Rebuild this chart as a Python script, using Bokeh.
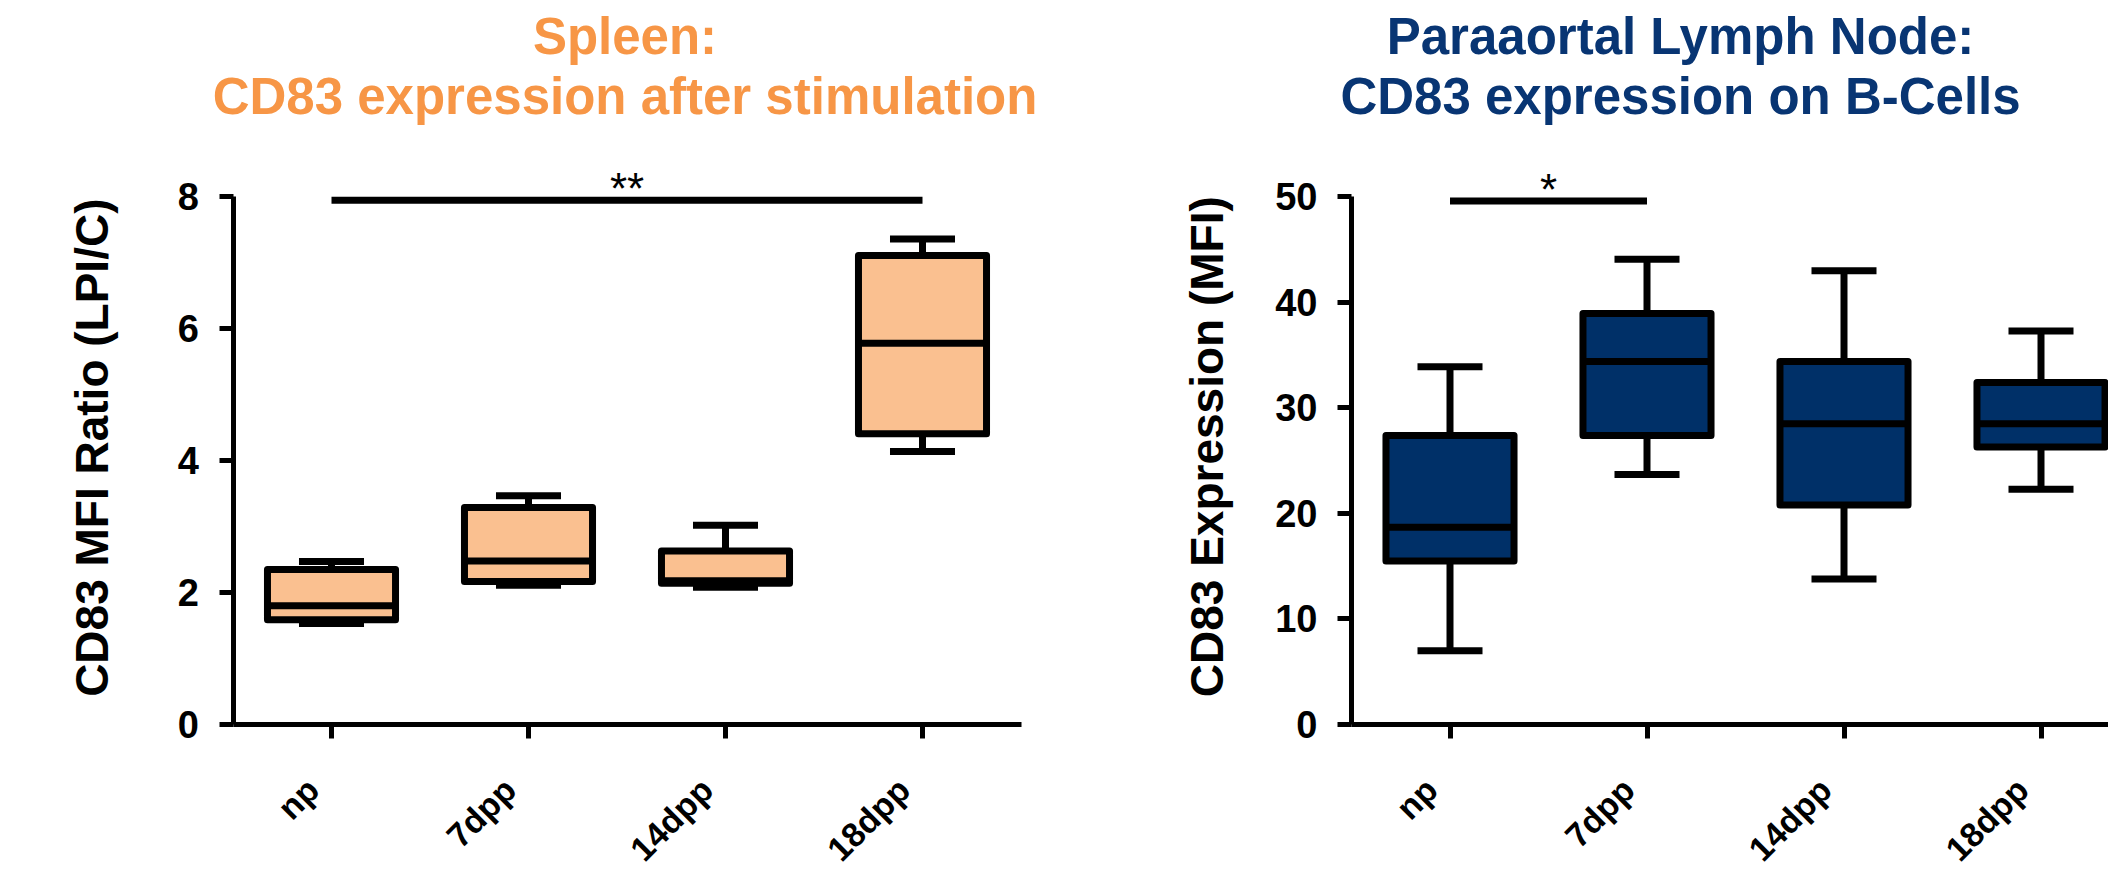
import math
from bokeh.plotting import figure
from bokeh.models import Range1d, FixedTicker
from bokeh.layouts import row
from bokeh.embed import file_html
from bokeh.resources import INLINE
from bokeh.core.properties import value

# ---------------- data ----------------
groups = ["np", "7dpp", "14dpp", "18dpp"]

spleen_low = [1.53, 2.11, 2.08, 4.14]
spleen_q1 = [1.59, 2.17, 2.14, 4.41]
spleen_median = [1.80, 2.48, 2.18, 5.78]
spleen_q3 = [2.35, 3.29, 2.63, 7.11]
spleen_high = [2.47, 3.47, 3.02, 7.36]
spleen_ticks = [0, 2, 4, 6, 8]
spleen_sig = {"from": 0, "to": 3, "y": 7.95, "text": "**"}

ln_low = [7.0, 23.7, 13.8, 22.3]
ln_q1 = [15.5, 27.4, 20.8, 26.3]
ln_median = [18.7, 34.4, 28.5, 28.5]
ln_q3 = [27.4, 38.95, 34.4, 32.4]
ln_high = [33.9, 44.1, 43.0, 37.3]
ln_ticks = [0, 10, 20, 30, 40, 50]
ln_sig = {"from": 0, "to": 1, "y": 49.6, "text": "*"}

# ---------------- styling / layout ----------------
FONT = "Liberation Sans"
BOX_W = 0.65
CAP_W = 0.33
LW = 7
TOP_PX = 527.6       # pixels from value 0 to the top tick
ZERO_PX = 724        # page y of value 0
FIG_H = 872
CAT_PX = 197.0       # pixels per category


def make_panel(fig_left, fig_width, first_cat_px, axis_end,
               title1, title2, title_color, title_dx, ylabel, ylabel_dx, ylabel_dy,
               low, q1, med, q3, high, ticks, sig, fill):
    ytop = ticks[-1]
    unit = TOP_PX / ytop
    y_start = -(FIG_H - ZERO_PX) / unit
    y_end = ZERO_PX / unit
    x_start = -(first_cat_px - fig_left) / CAT_PX
    x_end = x_start + fig_width / CAT_PX
    p = figure(
        x_range=Range1d(x_start, x_end), y_range=Range1d(y_start, y_end),
        frame_width=fig_width, frame_height=FIG_H,
        min_border_left=0, min_border_right=0, min_border_top=0, min_border_bottom=0,
        output_backend="svg", toolbar_location=None, tools="",
        background_fill_color="white", border_fill_color="white",
    )
    p.outline_line_color = None
    p.xgrid.visible = False
    p.ygrid.visible = False

    xs = list(range(len(groups)))
    # whiskers
    p.segment(x0=xs, x1=xs, y0=q3, y1=high, line_color="black", line_width=LW)
    p.segment(x0=xs, x1=xs, y0=q1, y1=low, line_color="black", line_width=LW)
    # caps
    p.segment(x0=[x - CAP_W / 2 for x in xs], x1=[x + CAP_W / 2 for x in xs], y0=high, y1=high,
              line_color="black", line_width=LW)
    p.segment(x0=[x - CAP_W / 2 for x in xs], x1=[x + CAP_W / 2 for x in xs], y0=low, y1=low,
              line_color="black", line_width=LW)
    # boxes
    p.quad(left=[x - BOX_W / 2 for x in xs], right=[x + BOX_W / 2 for x in xs], bottom=q1, top=q3,
           fill_color=fill, line_color="black", line_width=LW, line_join="round")
    # medians
    p.segment(x0=[x - BOX_W / 2 for x in xs], x1=[x + BOX_W / 2 for x in xs], y0=med, y1=med,
              line_color="black", line_width=LW)
    # significance bar and stars
    p.segment(x0=[sig["from"]], x1=[sig["to"]], y0=[sig["y"]], y1=[sig["y"]],
              line_color="black", line_width=LW)
    p.text(x=[(sig["from"] + sig["to"]) / 2], y=[sig["y"]], text=[sig["text"]],
           text_font=value(FONT), text_font_size="44px", text_align="center",
           text_baseline="middle", y_offset=-12, text_color="black")

    # titles (two lines)
    mid = (xs[0] + xs[-1]) / 2
    for txt, dy in ((title1, -160), (title2, -100)):
        p.text(x=[mid], y=[ytop], text=[txt], x_offset=title_dx, y_offset=dy,
               text_font=value(FONT), text_font_size="51px", text_font_style="bold",
               text_color=title_color, text_align="center", text_baseline="middle")

    # y axis title (rotated)
    p.text(x=[-0.5], y=[ytop / 2], text=[ylabel], angle=math.pi / 2,
           x_offset=ylabel_dx, y_offset=ylabel_dy,
           text_font=value(FONT), text_font_size="46px", text_font_style="bold",
           text_color="black", text_align="center", text_baseline="middle")

    # category labels (rotated)
    p.text(x=xs, y=[0] * len(xs), text=groups, angle=math.pi / 4,
           x_offset=-32, y_offset=46, text_align="right", text_baseline="top",
           text_font=value(FONT), text_font_size="34px", text_font_style="bold",
           text_color="black")

    # y axis at the left end of the categories
    ax = p.yaxis[0]
    ax.fixed_location = -0.5
    ax.ticker = FixedTicker(ticks=ticks)
    ax.bounds = (0, ytop)
    ax.axis_line_width = 5
    ax.major_tick_line_width = 5
    ax.major_tick_out = 14
    ax.major_tick_in = 0
    ax.minor_tick_line_color = None
    ax.major_label_text_font = FONT
    ax.major_label_text_font_size = "38px"
    ax.major_label_text_font_style = "bold"
    ax.major_label_text_color = "black"
    ax.major_label_standoff = 20

    # x axis placed at value 0
    bx = p.xaxis[0]
    bx.fixed_location = 0
    bx.bounds = (-0.5, axis_end)
    bx.ticker = FixedTicker(ticks=xs)
    bx.major_label_overrides = {i: "" for i in xs}
    bx.axis_line_width = 5
    bx.major_tick_line_width = 5
    bx.major_tick_out = 14
    bx.major_tick_in = 0
    bx.minor_tick_line_color = None
    return p


left = make_panel(0, 1060, 331.0, 3.5,
                  "Spleen:", "CD83 expression after stimulation", "#F79646", -2,
                  "CD83 MFI Ratio (LPI/C)", -141, -13,
                  spleen_low, spleen_q1, spleen_median, spleen_q3, spleen_high,
                  spleen_ticks, spleen_sig, "#FAC090")
right = make_panel(1060, 1048, 1449.5, 4.0,
                   "Paraaortal Lymph Node:", "CD83 expression on B-Cells", "#083573", -65,
                   "CD83 Expression (MFI)", -145, -14,
                   ln_low, ln_q1, ln_median, ln_q3, ln_high,
                   ln_ticks, ln_sig, "#003068")

layout = row(left, right, spacing=0)
open("out.html", "w").write(file_html(layout, INLINE))
